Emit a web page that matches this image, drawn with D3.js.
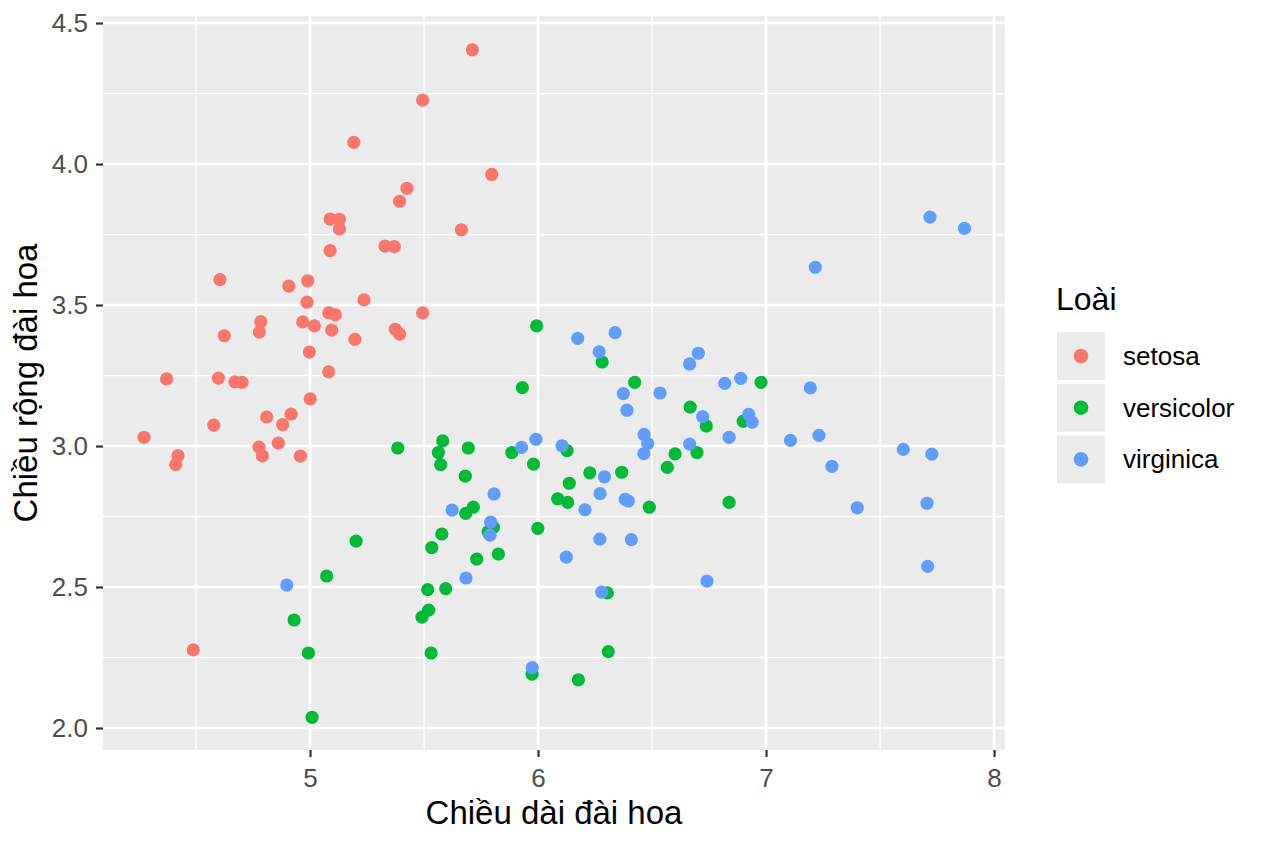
<!DOCTYPE html>
<html>
<head>
<meta charset="utf-8">
<script src="https://cdn.jsdelivr.net/npm/d3@7"></script>
<style>
  body { margin: 0; background: #fff; }
  svg { display: block; font-family: "Liberation Sans", Arial, Helvetica, sans-serif; }
  .tick-label { fill: #4d4d4d; font-size: 26px; }
  .axis-title { fill: #000; font-size: 33px; }
  .legend-title { fill: #000; font-size: 32px; }
  .legend-label { fill: #000; font-size: 26px; }
</style>
</head>
<body>
<svg class="graph" width="1264" height="848"></svg>
<script>
// species and their colours (ggplot default hue palette)
var speciesNames = ["setosa", "versicolor", "virginica"];
var speciesColors = ["#F8766D", "#00BA38", "#619CFF"];

// jittered sepal length / sepal width
var setosaX = [5.712, 5.494, 5.192, 5.797, 5.425, 5.393, 5.088, 5.129, 5.129, 5.664,
    5.088, 5.329, 5.370, 4.605, 4.907, 4.990, 4.987, 5.237, 5.494, 4.784,
    4.778, 4.624, 4.968, 5.019, 5.082, 5.111, 5.095, 5.197, 5.374, 5.393,
    4.997, 5.082, 4.371, 4.598, 4.671, 4.702, 5.001, 4.810, 4.917, 4.880,
    4.578, 4.272, 4.776, 4.861, 4.791, 4.958, 4.421, 4.411, 4.488];
var setosaY = [4.405, 4.227, 4.077, 3.963, 3.914, 3.868, 3.805, 3.804, 3.770, 3.767,
    3.693, 3.709, 3.707, 3.590, 3.567, 3.586, 3.510, 3.518, 3.472, 3.441,
    3.404, 3.391, 3.440, 3.426, 3.472, 3.465, 3.411, 3.378, 3.414, 3.397,
    3.333, 3.263, 3.238, 3.241, 3.228, 3.226, 3.167, 3.103, 3.113, 3.076,
    3.074, 3.031, 2.996, 3.010, 2.965, 2.964, 2.966, 2.934, 2.277];

var versicolorX = [5.385, 5.582, 5.694, 5.885, 5.563, 5.573, 5.681, 5.716, 5.683, 5.804,
    5.781, 5.578, 5.534, 5.731, 5.826, 5.202, 5.073, 5.516, 5.595, 5.520,
    5.491, 4.930, 4.993, 5.531, 5.009, 5.994, 6.281, 6.424, 5.931, 6.978,
    6.667, 6.738, 6.900, 6.697, 6.601, 6.567, 6.127, 5.980, 6.227, 6.367,
    6.137, 6.086, 6.130, 6.488, 6.838, 5.999, 6.304, 6.308, 5.974, 6.177];
var versicolorY = [2.993, 3.018, 2.993, 2.977, 2.977, 2.934, 2.893, 2.783, 2.761, 2.712,
    2.696, 2.688, 2.640, 2.599, 2.617, 2.663, 2.539, 2.491, 2.494, 2.418,
    2.393, 2.383, 2.266, 2.266, 2.038, 3.426, 3.298, 3.226, 3.207, 3.226,
    3.138, 3.071, 3.088, 2.977, 2.972, 2.924, 2.984, 2.936, 2.905, 2.907,
    2.868, 2.813, 2.800, 2.783, 2.800, 2.708, 2.479, 2.271, 2.191, 2.171];

var virginicaX = [5.807, 5.623, 5.792, 5.789, 5.684, 4.898, 6.174, 6.338, 6.268, 6.703,
    6.665, 6.374, 6.535, 6.819, 6.889, 6.390, 6.722, 6.924, 6.939, 6.838,
    7.107, 6.465, 6.481, 6.464, 6.665, 5.991, 5.928, 6.105, 6.291, 6.272,
    6.382, 6.396, 6.206, 6.271, 6.409, 6.124, 6.741, 6.279, 5.975, 7.719,
    7.870, 7.216, 7.194, 7.232, 7.289, 7.400, 7.602, 7.727, 7.706, 7.709];
var virginicaY = [2.830, 2.773, 2.730, 2.684, 2.532, 2.507, 3.382, 3.402, 3.334, 3.329,
    3.291, 3.186, 3.188, 3.222, 3.240, 3.127, 3.104, 3.112, 3.085, 3.031,
    3.020, 3.041, 3.009, 2.973, 3.007, 3.024, 2.995, 3.001, 2.891, 2.831,
    2.811, 2.805, 2.774, 2.670, 2.668, 2.606, 2.521, 2.482, 2.214, 3.812,
    3.772, 3.634, 3.206, 3.038, 2.928, 2.781, 2.988, 2.971, 2.797, 2.573];

// axis ticks
var xMajorTicks = [5, 6, 7, 8];
var xMinorTicks = [4.5, 5.5, 6.5, 7.5];
var yMajorTicks = [2.0, 2.5, 3.0, 3.5, 4.0, 4.5];
var yMinorTicks = [2.25, 2.75, 3.25, 3.75, 4.25];

var xTitle = "Chiều dài đài hoa";
var yTitle = "Chiều rộng đài hoa";
var legendTitle = "Loài";

var seriesX = [setosaX, versicolorX, virginicaX];
var seriesY = [setosaY, versicolorY, virginicaY];

var panel = { left: 103, top: 16, right: 1005, bottom: 750 };
var svg = d3.select("svg.graph");

var xScale = d3.scaleLinear()
    .domain([4.092, 8.048])
    .range([panel.left, panel.right]);
var yScale = d3.scaleLinear()
    .domain([1.922, 4.525])
    .range([panel.bottom, panel.top]);

// panel background
svg.append("rect")
    .attr("x", panel.left)
    .attr("y", panel.top)
    .attr("width", panel.right - panel.left)
    .attr("height", panel.bottom - panel.top)
    .attr("fill", "#ebebeb");

// grid
var grid = svg.append("g").attr("stroke", "#fff");
grid.selectAll("line.xminor").data(xMinorTicks).enter().append("line")
    .attr("x1", xScale).attr("x2", xScale)
    .attr("y1", panel.top).attr("y2", panel.bottom)
    .attr("stroke-width", 1.3);
grid.selectAll("line.yminor").data(yMinorTicks).enter().append("line")
    .attr("y1", yScale).attr("y2", yScale)
    .attr("x1", panel.left).attr("x2", panel.right)
    .attr("stroke-width", 1.3);
grid.selectAll("line.xmajor").data(xMajorTicks).enter().append("line")
    .attr("x1", xScale).attr("x2", xScale)
    .attr("y1", panel.top).attr("y2", panel.bottom)
    .attr("stroke-width", 2.6);
grid.selectAll("line.ymajor").data(yMajorTicks).enter().append("line")
    .attr("y1", yScale).attr("y2", yScale)
    .attr("x1", panel.left).attr("x2", panel.right)
    .attr("stroke-width", 2.6);

// axes
var xAxis = d3.axisBottom(xScale)
    .tickValues(xMajorTicks)
    .tickFormat(d3.format("d"))
    .tickSize(7)
    .tickPadding(12);
var yAxis = d3.axisLeft(yScale)
    .tickValues(yMajorTicks)
    .tickFormat(d3.format(".1f"))
    .tickSize(7)
    .tickPadding(8);

var gx = svg.append("g")
    .attr("transform", "translate(0," + panel.bottom + ")")
    .call(xAxis);
var gy = svg.append("g")
    .attr("transform", "translate(" + panel.left + ",0)")
    .call(yAxis);
[gx, gy].forEach(function (g) {
    g.select(".domain").remove();
    g.selectAll(".tick line").attr("stroke", "#333").attr("stroke-width", 2.2);
    g.selectAll(".tick text")
        .attr("class", "tick-label")
        .attr("fill", null)
        .attr("font-size", null)
        .attr("font-family", null);
});

// axis titles
svg.append("text")
    .attr("class", "axis-title")
    .attr("x", (panel.left + panel.right) / 2)
    .attr("y", 824)
    .attr("text-anchor", "middle")
    .text(xTitle);
svg.append("text")
    .attr("class", "axis-title")
    .attr("transform", "translate(37," + (panel.top + panel.bottom) / 2 + ") rotate(-90)")
    .attr("text-anchor", "middle")
    .text(yTitle);

// points, drawn series by series so virginica sits on top
seriesX.forEach(function (xs, s) {
    svg.append("g")
        .selectAll("circle")
        .data(xs)
        .enter()
        .append("circle")
        .attr("cx", function (d) { return xScale(d); })
        .attr("cy", function (d, i) { return yScale(seriesY[s][i]); })
        .attr("r", 6.6)
        .attr("fill", speciesColors[s]);
});

// legend
var legend = svg.append("g").attr("transform", "translate(1057,0)");
legend.append("text")
    .attr("class", "legend-title")
    .attr("x", -1)
    .attr("y", 310)
    .text(legendTitle);
var keys = legend.selectAll("g.key")
    .data(speciesNames)
    .enter()
    .append("g")
    .attr("transform", function (d, i) { return "translate(0," + (332 + i * 51.7) + ")"; });
keys.append("rect")
    .attr("width", 48)
    .attr("height", 48)
    .attr("fill", "#ebebeb");
keys.append("circle")
    .attr("cx", 24)
    .attr("cy", 24)
    .attr("r", 7.3)
    .attr("fill", function (d, i) { return speciesColors[i]; });
keys.append("text")
    .attr("class", "legend-label")
    .attr("x", 66)
    .attr("y", 24)
    .attr("dy", "0.35em")
    .text(function (d) { return d; });
</script>
</body>
</html>
